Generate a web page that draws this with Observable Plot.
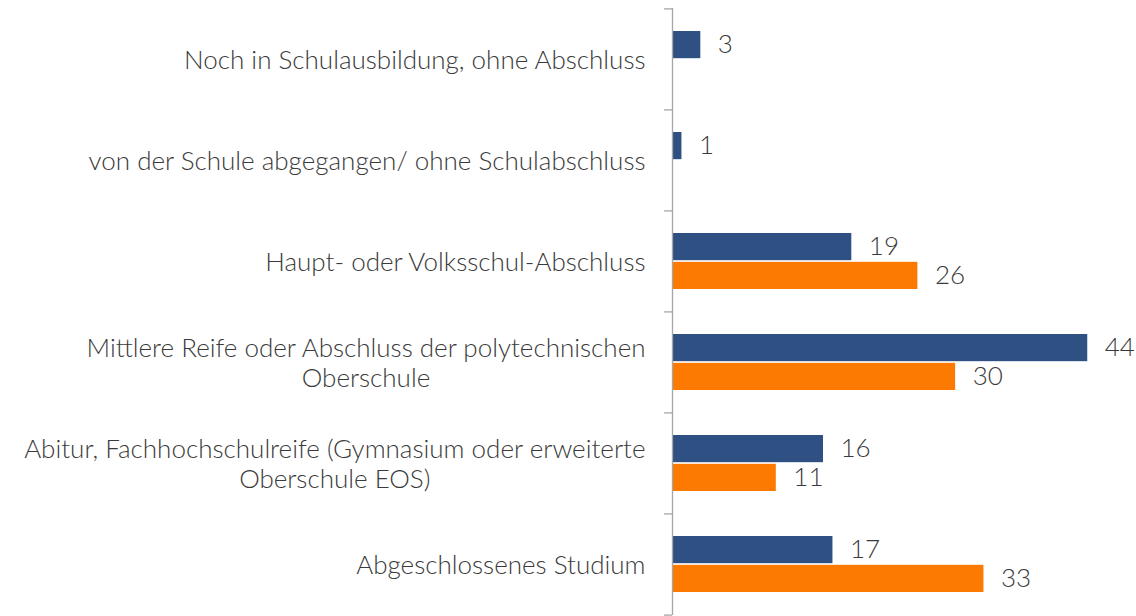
<!DOCTYPE html>
<html><head><meta charset="utf-8">
<script src="https://cdn.jsdelivr.net/npm/d3@7"></script>
<script src="https://cdn.jsdelivr.net/npm/@observablehq/plot@0.6"></script>
<style>
html,body{margin:0;padding:0;background:#fff;}
#chart{width:1136px;height:616px;}
</style></head><body><div id="chart"></div>
<script>
const categories = [
  "Noch in Schulausbildung, ohne Abschluss",
  "von der Schule abgegangen/ ohne Schulabschluss",
  "Haupt- oder Volksschul-Abschluss",
  "Mittlere Reife oder Abschluss der polytechnischen Oberschule",
  "Abitur, Fachhochschulreife (Gymnasium oder erweiterte Oberschule EOS)",
  "Abgeschlossenes Studium"
];
const tickLabels = [
  "Noch in Schulausbildung, ohne Abschluss",
  "von der Schule abgegangen/ ohne Schulabschluss",
  "Haupt- oder Volksschul-Abschluss",
  "Mittlere Reife oder Abschluss der polytechnischen\nOberschule",
  "Abitur, Fachhochschulreife (Gymnasium oder erweiterte\nOberschule EOS)",
  "Abgeschlossenes Studium"
];
const seriesBlue = [3, 1, 19, 44, 16, 17];
const seriesOrange = [null, null, 26, 30, 11, 33];
const xDomain = [0, 48];

const blueData = categories.map((c, i) => ({category: c, value: seriesBlue[i]}));
const orangeData = categories.map((c, i) => ({category: c, value: seriesOrange[i]})).filter(d => d.value != null);
const labelOf = new Map(categories.map((c, i) => [c, tickLabels[i]]));

const W = 1136, H = 616, mt = 8, mb = 1;
const pInner = 0.45, pOuter = 0.225;
const step = (H - mt - mb) / categories.length;
const bw = step * (1 - pInner);
const half = bw / 2 + 1;
const gray = "#a6a6a6";
const textColor = "#3a3a3a";
const fs = 26;

const chart = Plot.plot({
  width: W, height: H,
  marginLeft: 672, marginRight: 11, marginTop: mt, marginBottom: mb,
  style: {fontFamily: "Lato, 'Open Sans', sans-serif", fontWeight: 300, fontSize: fs + "px", color: textColor, background: "#fff"},
  x: {domain: xDomain, axis: null},
  y: {domain: categories, paddingInner: pInner, paddingOuter: pOuter, axis: null, label: null},
  marks: [
    Plot.barX(blueData, {y: "category", x: "value", fill: "#2F5082", insetBottom: half}),
    Plot.barX(orangeData, {y: "category", x: "value", fill: "#FC7A02", insetTop: half}),
    Plot.text(blueData, {y: "category", x: "value", text: d => String(d.value), textAnchor: "start", dx: 17, dy: -(bw / 4 + 0.5), fill: textColor, fontSize: fs, fontWeight: 300}),
    Plot.text(orangeData, {y: "category", x: "value", text: d => String(d.value), textAnchor: "start", dx: 17, dy: (bw / 4 + 0.5), fill: textColor, fontSize: fs, fontWeight: 300}),
    Plot.ruleX([0], {stroke: gray, strokeWidth: 1.3}),
    Plot.ruleY(categories, {y: d => d, x1: 0, x2: 0, insetLeft: -8, dy: -step / 2, stroke: gray, strokeWidth: 1.3}),
    Plot.ruleY([categories[categories.length - 1]], {y: d => d, x1: 0, x2: 0, insetLeft: -8, dy: step / 2, stroke: gray, strokeWidth: 1.3}),
    Plot.axisY({tickSize: 0, tickPadding: 27, tickFormat: d => labelOf.get(d), label: null, fontSize: fs, lineHeight: 1.15, fill: textColor, textAnchor: "end"})
  ]
});
document.getElementById("chart").append(chart);

// center wrapped label lines like the original
chart.querySelectorAll('[aria-label="y-axis tick label"] text').forEach(t => {
  const spans = t.querySelectorAll("tspan");
  if (spans.length > 1) {
    const w = t.getBBox().width;
    t.setAttribute("text-anchor", "middle");
    spans.forEach(s => s.setAttribute("x", -w / 2));
  }
});
</script>
</body></html>
